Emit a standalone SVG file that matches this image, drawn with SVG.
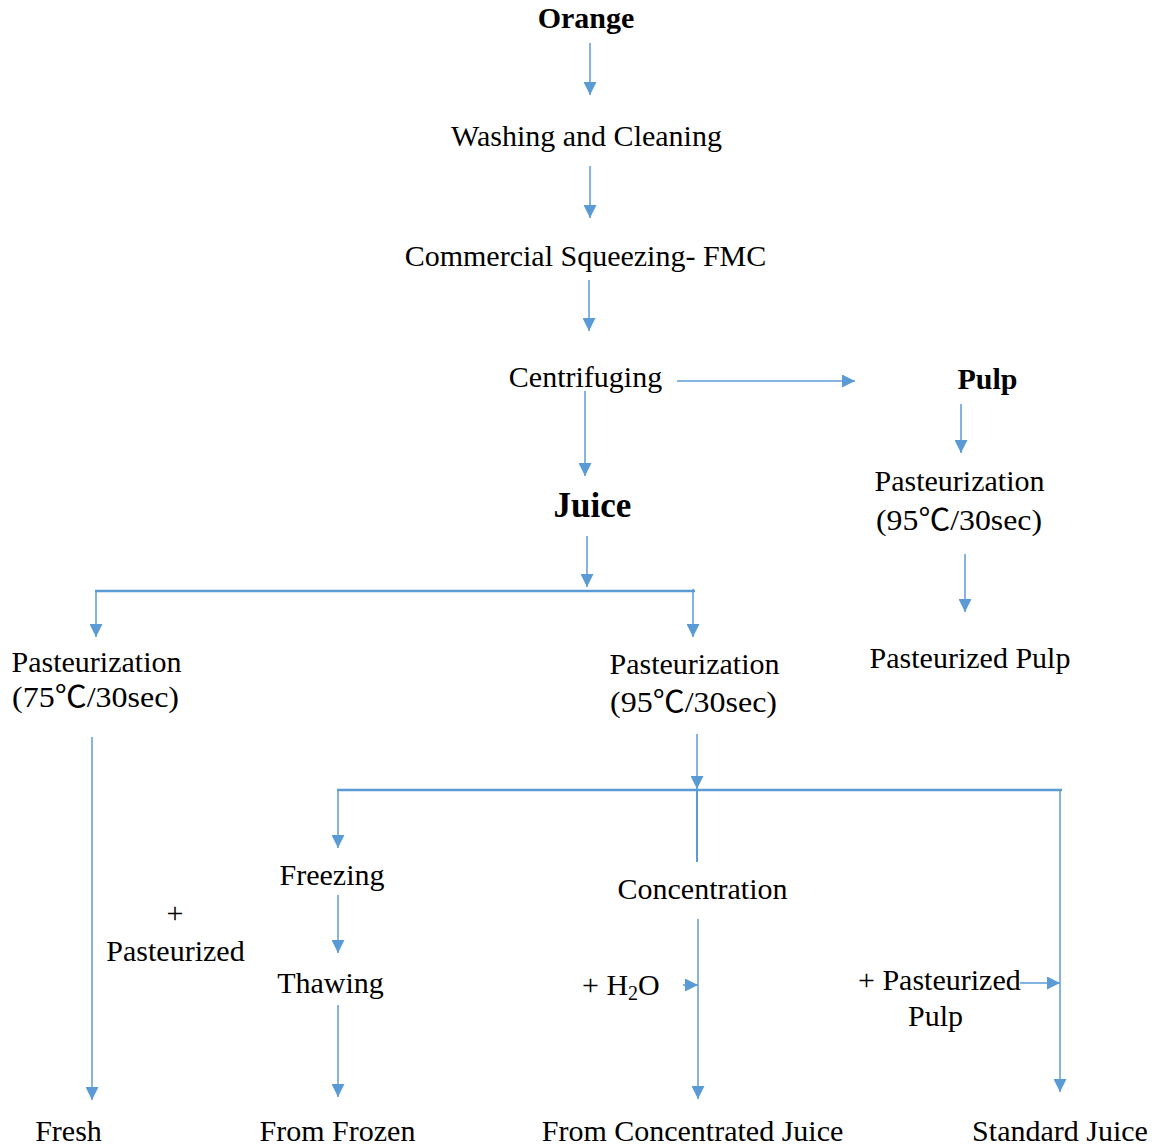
<svg xmlns="http://www.w3.org/2000/svg" width="1158" height="1147" viewBox="0 0 1158 1147">
<style>
.t{font-family:"Liberation Serif","Times New Roman",serif;font-size:30px;fill:#000;text-anchor:middle}
.s{text-anchor:start}
.b{font-weight:bold}
.c{stroke:#5B9BD5;stroke-width:1.5;fill:none}
.a{marker-end:url(#ah)}
.k{stroke-width:2.5}
.deg{font-family:"Liberation Serif","Noto Sans CJK SC",serif}
</style>
<defs>
<marker id="ah" markerUnits="userSpaceOnUse" markerWidth="14" markerHeight="13" refX="13" refY="6.5" orient="auto" viewBox="0 0 14 13">
<path d="M0,0 L13,6.5 L0,13 z" fill="#5B9BD5"/>
</marker>
</defs>
<rect width="1158" height="1147" fill="#fff"/>
<g id="connectors">
<line class="c a" x1="590" y1="43" x2="590" y2="95"/>
<line class="c a" x1="590" y1="166" x2="590" y2="218"/>
<line class="c a" x1="589" y1="280" x2="589" y2="331"/>
<line class="c a" x1="677" y1="381" x2="855" y2="381"/>
<line class="c a" x1="585" y1="391" x2="585" y2="476"/>
<line class="c a" x1="587" y1="536" x2="587" y2="587"/>
<line class="c k" x1="95" y1="591" x2="695" y2="591"/>
<line class="c a" x1="96" y1="591" x2="96" y2="637"/>
<line class="c a" x1="693" y1="589" x2="693" y2="637"/>
<line class="c a" x1="961" y1="404" x2="961" y2="453"/>
<line class="c a" x1="965" y1="554" x2="965" y2="612"/>
<line class="c a" x1="92" y1="737" x2="92" y2="1100"/>
<line class="c a" x1="697" y1="734" x2="697" y2="789"/>
<line class="c k" x1="337" y1="790" x2="1062" y2="790"/>
<line class="c a" x1="338" y1="790" x2="338" y2="848"/>
<line class="c k" x1="697" y1="790" x2="697" y2="862" style="stroke-width:2"/>
<line class="c a" x1="1060" y1="790" x2="1060" y2="1092"/>
<line class="c a" x1="338" y1="895" x2="338" y2="953"/>
<line class="c a" x1="338" y1="1005" x2="338" y2="1097"/>
<line class="c a" x1="698" y1="919" x2="698" y2="1099"/>
<line class="c a" x1="683" y1="985" x2="698" y2="985"/>
<line class="c a" x1="1020" y1="983" x2="1060" y2="983"/>
</g>
<g id="orange"><text class="t b" x="586" y="28">Orange</text></g>
<g id="washing"><text class="t" x="586.5" y="146">Washing and Cleaning</text></g>
<g id="squeezing"><text class="t" x="585.5" y="266">Commercial Squeezing- FMC</text></g>
<g id="centrifuging"><text class="t" x="585.5" y="387">Centrifuging</text></g>
<g id="pulp"><text class="t b" x="987.5" y="389">Pulp</text></g>
<g id="juice"><text class="t b" x="592.5" y="517" style="font-size:35px">Juice</text></g>
<g id="past75"><text class="t" x="96.5" y="672">Pasteurization</text><text class="t deg" x="95.5" y="707" textLength="167" lengthAdjust="spacingAndGlyphs">(75℃/30sec)</text></g>
<g id="past95"><text class="t" x="694.5" y="674">Pasteurization</text><text class="t deg" x="693.5" y="712" textLength="167" lengthAdjust="spacingAndGlyphs">(95℃/30sec)</text></g>
<g id="pulppast"><text class="t" x="959.5" y="491">Pasteurization</text><text class="t deg" x="959" y="530" textLength="166" lengthAdjust="spacingAndGlyphs">(95℃/30sec)</text></g>
<g id="pastpulp"><text class="t" x="970" y="668">Pasteurized Pulp</text></g>
<g id="plus-past"><text class="t" x="175" y="923">+</text><text class="t" x="175.5" y="961">Pasteurized</text></g>
<g id="freezing"><text class="t" x="332" y="885">Freezing</text></g>
<g id="thawing"><text class="t" x="330.5" y="993">Thawing</text></g>
<g id="concentration"><text class="t" x="702.5" y="899">Concentration</text></g>
<g id="h2o"><text class="t s" x="582" y="995">+ H<tspan style="font-size:20px" dy="5">2</tspan><tspan dy="-5">O</tspan></text></g>
<g id="plus-pulp"><text class="t s" x="858" y="990">+ Pasteurized</text><text class="t s" x="908" y="1026">Pulp</text></g>
<g id="fresh"><text class="t" x="68.5" y="1141">Fresh</text></g>
<g id="fromfrozen"><text class="t" x="337.5" y="1141">From Frozen</text></g>
<g id="fromconc"><text class="t" x="692.5" y="1141">From Concentrated Juice</text></g>
<g id="standard"><text class="t" x="1060" y="1141">Standard Juice</text></g>
</svg>
